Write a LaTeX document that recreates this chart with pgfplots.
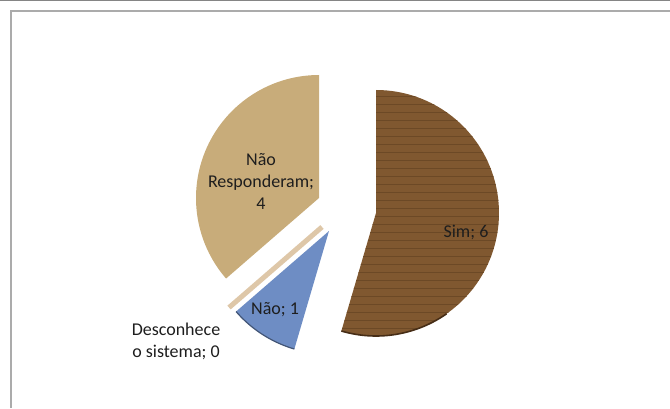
\documentclass[border=0pt]{standalone}
\usepackage{pgfplots}
\pgfplotsset{compat=1.18}
\usetikzlibrary{patterns.meta}
\usepackage{fontspec}
\setmainfont{Carlito}

\definecolor{simwood}{RGB}{128,88,48}
\definecolor{simdark}{RGB}{70,45,22}
\definecolor{simgrain}{RGB}{108,73,38}
\definecolor{nrtan}{RGB}{200,172,122}
\definecolor{naoblue}{RGB}{110,141,196}
\definecolor{desline}{RGB}{222,199,168}
\definecolor{labeltext}{RGB}{30,30,30}

% answers: Sim, Nao, Desconhece o sistema, Nao Responderam
\def\vSim{6}
\def\vNao{1}
\def\vDes{0}
\def\vNR{4}
\def\R{123}

% one exploded slice: style, apex x, apex y, start angle, end angle
\newcommand{\sector}[5]{%
  \addplot[#1, draw=none, domain=#4:#5, samples=120, variable=\t]
    ({#2+\R*cos(\t)}, {#3+\R*sin(\t)}) -- (#2,#3) -- cycle;}

\begin{document}
\begin{tikzpicture}
\pgfmathsetmacro{\tot}{\vSim+\vNao+\vDes+\vNR}
\pgfmathsetmacro{\aA}{90}
\pgfmathsetmacro{\aB}{\aA-360*\vSim/\tot}
\pgfmathsetmacro{\aC}{\aB-360*\vNao/\tot}
\pgfmathsetmacro{\aD}{\aC-360*\vDes/\tot}
\pgfmathsetmacro{\aE}{\aD-360*\vNR/\tot}
\begin{axis}[
  scale only axis, width=670bp, height=408bp,
  xmin=0, xmax=670, ymin=0, ymax=408,
  axis lines=none, no markers,
  font=\fontsize{18bp}{22bp}\selectfont,
]
% frame
\addplot[draw=black!48, line width=1.5bp] coordinates {(0,407.4) (670,407.4)};
\addplot[draw=black!33, line width=2bp] coordinates {(10.5,0) (10.5,396.5) (670,396.5)};

% slices
\sector{fill=simwood, postaction={pattern={Lines[angle=0, distance=8bp, line width=0.5bp]}, pattern color=simgrain}}{376}{195}{\aB}{\aA}
\addplot[draw=simdark, line width=1.6bp, domain=\aB:-55, samples=60, variable=\t]
  ({376+\R*cos(\t)}, {195+\R*sin(\t)});
\sector{fill=naoblue}{329}{177}{\aC}{\aB}
\addplot[draw=naoblue!60!black, line width=1.2bp, domain=\aC:\aB, samples=40, variable=\t]
  ({329+\R*cos(\t)}, {177+\R*sin(\t)});
\sector{fill=nrtan}{319}{210}{\aE}{\aD}
% zero slice shows only as a line
\addplot[draw=desline, line width=5bp, domain=0:\R, samples=2, variable=\t]
  ({322+\t*cos(\aD)}, {181+\t*sin(\aD)});

% data labels
\node[text=labeltext, align=center] at (261,226.5) {Não\\Responderam;\\\vNR};
\node[text=labeltext] at (466,176) {Sim; \vSim};
\node[text=labeltext] at (275,98) {Não; \vNao};
\node[text=labeltext, align=center] at (176,67) {Desconhece\\o sistema; \vDes};
\end{axis}
\end{tikzpicture}
\end{document}
